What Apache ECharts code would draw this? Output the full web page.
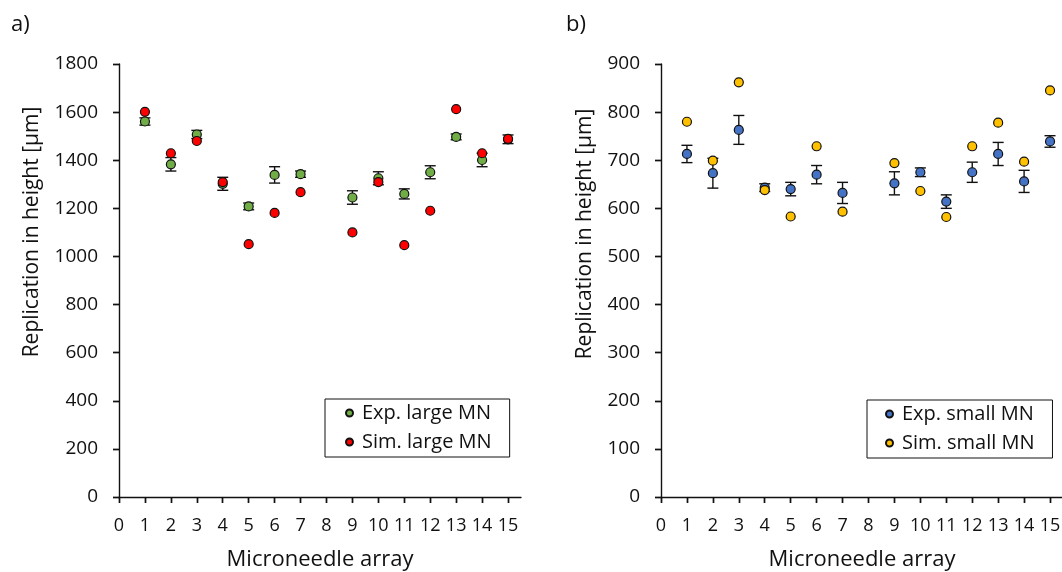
<!DOCTYPE html>
<html>
<head>
<meta charset="utf-8">
<script src="https://cdn.jsdelivr.net/npm/echarts@6/dist/echarts.min.js"></script>
<style>
  html, body { margin: 0; padding: 0; background: #fff; }
  #chart { width: 1062px; height: 572px; }
</style>
</head>
<body>
<div id="chart"></div>
<script>
// microneedle arrays (no array 8)
const arrays = [1, 2, 3, 4, 5, 6, 7, 9, 10, 11, 12, 13, 14, 15];
const xTicks = [0, 1, 2, 3, 4, 5, 6, 7, 8, 9, 10, 11, 12, 13, 14, 15];

// a) large MN
const expLarge    = [1561, 1383, 1507, 1302, 1208, 1339, 1342, 1245, 1325, 1260, 1350, 1497, 1401, 1487];
const expLargeErr = [15, 28, 17, 27, 14, 34, 13, 28, 27, 21, 27, 12, 28, 18];
const simLarge    = [1601, 1429, 1480, 1309, 1051, 1181, 1267, 1100, 1309, 1047, 1190, 1612, 1429, 1489];

// b) small MN
const expSmall    = [713, 673, 763, 643, 640, 670, 632, 652, 675, 614, 675, 713, 656, 739];
const expSmallErr = [18, 31, 30, 8, 14, 19, 22, 24, 9, 14, 21, 24, 23, 12];
const simSmall    = [780, 699, 862, 638, 583, 729, 593, 694, 636, 582, 729, 778, 697, 845];

const FONT = 'Open Sans';
const INK = '#111';

const pairs = (ys) => arrays.map((x, i) => [x, ys[i]]);
const bars = (ys, err) => arrays.map((x, i) => [x, ys[i] - err[i], ys[i] + err[i]]);

function errorBarItem(params, api) {
  const x = api.value(0);
  const lo = api.coord([x, api.value(1)]);
  const hi = api.coord([x, api.value(2)]);
  const half = 5.5;
  const style = { stroke: INK, lineWidth: 1.4 };
  return {
    type: 'group',
    children: [
      { type: 'line', shape: { x1: lo[0], y1: lo[1], x2: hi[0], y2: hi[1] }, style },
      { type: 'line', shape: { x1: lo[0] - half, y1: lo[1], x2: lo[0] + half, y2: lo[1] }, style },
      { type: 'line', shape: { x1: hi[0] - half, y1: hi[1], x2: hi[0] + half, y2: hi[1] }, style }
    ]
  };
}

function xAxes(gi) {
  const base = {
    type: 'value', gridIndex: gi, min: 0, max: 15.5, splitLine: { show: false }
  };
  return [
    Object.assign({}, base, {
      name: 'Microneedle array', nameLocation: 'middle', nameGap: 52,
      nameTextStyle: { fontFamily: FONT, fontSize: 22, color: INK },
      axisLine: { lineStyle: { color: INK, width: 1.4 } },
      axisTick: { customValues: xTicks, length: 6, lineStyle: { color: INK, width: 1.4 } },
      axisLabel: { customValues: xTicks, margin: 20, fontFamily: FONT, fontSize: 18, color: INK }
    }),
    Object.assign({}, base, {
      axisLine: { show: false },
      axisTick: { customValues: xTicks, inside: true, length: 6, lineStyle: { color: INK, width: 1.4 } },
      axisLabel: { show: false }
    })
  ];
}

function yAxes(gi, max, step) {
  const base = {
    type: 'value', gridIndex: gi, min: 0, max: max, interval: step, splitLine: { show: false }
  };
  return [
    Object.assign({}, base, {
      axisLine: { show: true, lineStyle: { color: INK, width: 1.4 } },
      axisTick: { show: true, length: 6, lineStyle: { color: INK, width: 1.4 } },
      axisLabel: { margin: 21, fontFamily: FONT, fontSize: 19, color: INK, formatter: (v) => String(v) }
    }),
    Object.assign({}, base, {
      axisLine: { show: false },
      axisTick: { show: true, inside: true, length: 6, lineStyle: { color: INK, width: 1.4 } },
      axisLabel: { show: false }
    })
  ];
}

function dots(name, data, color, gi) {
  return {
    name: name, type: 'scatter', xAxisIndex: gi * 2, yAxisIndex: gi * 2,
    data: data, symbol: 'circle', symbolSize: 9,
    itemStyle: { color: color, borderColor: INK, borderWidth: 1.2, opacity: 1 }
  };
}

function legendBox(names, left, top, padLeft) {
  return {
    orient: 'vertical', left: left, top: top, data: names,
    icon: 'circle', itemWidth: 7, itemHeight: 7, itemGap: 7,
    borderColor: INK, borderWidth: 1, backgroundColor: '#fff',
    padding: [3, 18, 4, padLeft],
    textStyle: { fontFamily: FONT, fontSize: 20, color: INK, lineHeight: 22, padding: [0, 0, 0, 4] }
  };
}

const chart = echarts.init(document.getElementById('chart'));

chart.setOption({
  animation: false,
  backgroundColor: '#fff',
  grid: [
    { left: 119, top: 64, width: 402, height: 433, containLabel: false, outerBoundsMode: 'none' },
    { left: 661, top: 64, width: 402, height: 433, containLabel: false, outerBoundsMode: 'none' }
  ],
  xAxis: xAxes(0).concat(xAxes(1)),
  yAxis: yAxes(0, 1800, 200).concat(yAxes(1, 900, 100)),
  legend: [
    legendBox(['Exp. large MN', 'Sim. large MN'], 325, 399, 20),
    legendBox(['Exp. small MN', 'Sim. small MN'], 867, 400, 18)
  ],
  graphic: [
    { type: 'text', left: 11, top: 14, style: { text: 'a)', fontFamily: FONT, fontSize: 22, fill: INK } },
    { type: 'text', left: 566, top: 14, style: { text: 'b)', fontFamily: FONT, fontSize: 22, fill: INK } },
    { type: 'text', x: 32, y: 232, rotation: Math.PI / 2,
      style: { text: 'Replication in height [µm]', fontFamily: FONT, fontSize: 21, fill: INK, align: 'center', verticalAlign: 'middle' } },
    { type: 'text', x: 585, y: 234, rotation: Math.PI / 2,
      style: { text: 'Replication in height [µm]', fontFamily: FONT, fontSize: 21, fill: INK, align: 'center', verticalAlign: 'middle' } }
  ],
  series: [
    {
      type: 'custom', xAxisIndex: 0, yAxisIndex: 0, renderItem: errorBarItem,
      encode: { x: 0, y: [1, 2] }, data: bars(expLarge, expLargeErr), silent: true
    },
    dots('Exp. large MN', pairs(expLarge), '#70AD47', 0),
    dots('Sim. large MN', pairs(simLarge), '#FF0000', 0),
    {
      type: 'custom', xAxisIndex: 2, yAxisIndex: 2, renderItem: errorBarItem,
      encode: { x: 0, y: [1, 2] }, data: bars(expSmall, expSmallErr), silent: true
    },
    dots('Exp. small MN', pairs(expSmall), '#4472C4', 1),
    dots('Sim. small MN', pairs(simSmall), '#FFC000', 1)
  ]
});
</script>
</body>
</html>
